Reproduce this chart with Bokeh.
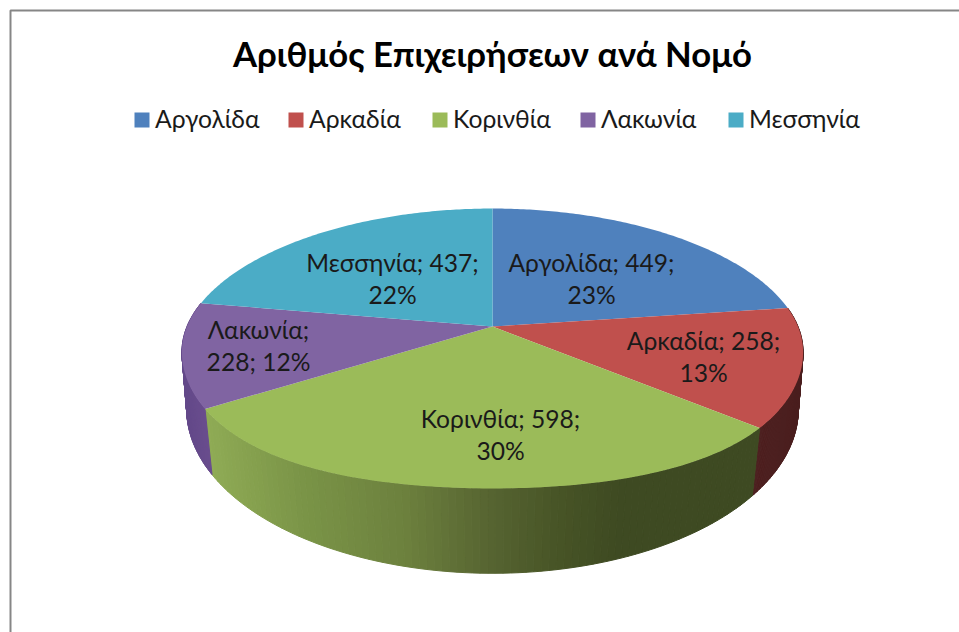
import numpy as np
from bokeh.plotting import figure
from bokeh.embed import file_html
from bokeh.resources import INLINE
from bokeh.core.properties import value

title = "Αριθμός Επιχειρήσεων ανά Νομό"
categories = ["Αργολίδα", "Αρκαδία", "Κορινθία", "Λακωνία", "Μεσσηνία"]
counts = [449, 258, 598, 228, 437]
percents = [23, 13, 30, 12, 22]
colors = ["#4f81bd", "#c0504d", "#9bbb59", "#8064a2", "#4bacc6"]
FONT = "Lato"

total = sum(counts)
edges = np.cumsum([0] + counts) / total * 2 * np.pi


def top(t):
    X, Y = np.sin(t), np.cos(t)
    x = 492 + 305.5 * X / (1 + 0.18 * Y)
    y = 326 - (136 + 3.2 * Y) * Y / (1 + 0.18 * Y) + 25 * X**2 * np.minimum(Y, 0)**2
    return x, y


def bottom(t):
    X, Y = np.sin(t), np.cos(t)
    return 492 + 302 * X / (1 + 0.157 * Y), 383 - 160 * Y / (1 + 0.157 * Y)


def hex2rgb(h):
    return np.array([int(h[i:i + 2], 16) for i in (1, 3, 5)], float)


def ramp(x, stops, cols):
    rgb = [np.interp(x, stops, [hex2rgb(c)[i] for c in cols]) for i in range(3)]
    return "#%02x%02x%02x" % tuple(int(round(v)) for v in rgb)


side_ramps = {
    1: ([750, 800], ["#4e2020", "#4a1e1e"]),
    2: ([205, 300, 400, 490, 560, 620], ["#8fab55", "#7a9447", "#6d813e", "#566431", "#475426", "#3e4a22"]),
    3: ([185, 215], ["#64498a", "#6c4f8f"]),
}

p = figure(width=959, height=632, x_range=(0, 959), y_range=(632, 0),
           output_backend="svg", toolbar_location=None, min_border=0)
p.axis.visible = False
p.grid.visible = False
p.outline_line_color = None
p.background_fill_color = "white"

# chart frame
p.line([10, 10, 959], [632, 10, 10], line_color="#868686", line_width=2)

# side walls
for i, (stops, cols) in side_ramps.items():
    ts = np.linspace(edges[i], edges[i + 1], 90)
    xs, ys, fc = [], [], []
    for a, b in zip(ts[:-1], ts[1:]):
        xa, ya = top(a); xb, yb = top(b)
        xc, yc = bottom(b); xd, yd = bottom(a)
        xs.append([xa, xb, xc, xd]); ys.append([ya, yb, yc, yd])
        fc.append(ramp((xa + xb) / 2, stops, cols))
    p.patches(xs, ys, fill_color=fc, line_color=fc, line_width=1)

# top faces
for i, c in enumerate(colors):
    ts = np.linspace(edges[i], edges[i + 1], 120)
    x, y = top(ts)
    p.patch(np.r_[492, x], np.r_[326, y], fill_color=c, line_color=None)

# title
p.text([492], [53], [title], text_font=value(FONT), text_font_style="bold", text_font_size="34.7px",
       text_color="#000000", text_align="center", text_baseline="middle")

# legend
swatch_x = [134, 288, 432, 580, 728]
for sx, c, name in zip(swatch_x, colors, categories):
    p.quad(left=[sx], right=[sx + 15], top=[112], bottom=[127], fill_color=c, line_color=None)
    p.text([sx + 20.5], [117.5], [name], text_font=value(FONT), text_font_size="24.7px",
           text_color="#1a1a1a", text_align="left", text_baseline="middle")

# data labels
label_pos = [(591, 262, 294), (703, 340, 372), (500, 418, 450), (258, 329, 361), (392, 262, 294)]
for i, (lx, y1, y2) in enumerate(label_pos):
    if i == 3:
        l1, l2 = f"{categories[i]};", f"{counts[i]}; {percents[i]}%"
    else:
        l1, l2 = f"{categories[i]}; {counts[i]};", f"{percents[i]}%"
    p.text([lx, lx], [y1, y2], [l1, l2], text_font=value(FONT), text_font_size="24.6px",
           text_color="#1a1a1a", text_align="center", text_baseline="middle")

open("out.html", "w").write(file_html(p, INLINE))
